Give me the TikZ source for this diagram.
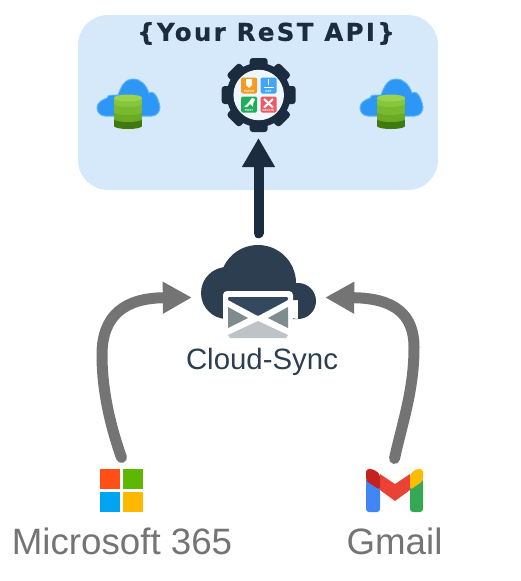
\documentclass[tikz,border=0pt]{standalone}
\usepackage{fontspec}
\setmainfont{Liberation Sans}
\newfontfamily\titlefont[LetterSpace=9.5, BoldFeatures={FakeBold=0.5}]{DejaVu Sans}
\usepackage{tikz}
\usetikzlibrary{arrows.meta, positioning}
\definecolor{navy}{HTML}{1B2B40}
\definecolor{slate}{HTML}{2C3E50}
\definecolor{panel}{HTML}{D6E9FB}
\definecolor{labelgray}{HTML}{747474}
\definecolor{cloudblue}{HTML}{2E96F5}
\definecolor{cloudedge}{HTML}{5CB8FF}
\tikzset{
    dbcloud/.pic={
        \fill[cloudblue, draw=cloudedge, line width=1pt] (-31,10) to[out=90,in=200] (-21,0) to[out=80,in=190] (-10,-3)
            to[out=70,in=180] (5,-19) to[out=0,in=110] (21,-5) to[out=30,in=100] (32,9) to[out=270,in=0] (24,18) -- (-23,18) to[out=180,in=270] cycle;
        \foreach \yy/\col in {22/3F7A0F, 15/6AAA24, 8/78B92F, 0/86C53C}{
            \definecolor{layercol}{HTML}{\col}
            \fill[layercol] (-14,\yy-1) rectangle (14,\yy+6);
            \fill[layercol] (0,\yy+6) ellipse [x radius=14, y radius=3];
        }
        \definecolor{layertop}{HTML}{9AD34E}
        \fill[layertop] (0,0) ellipse [x radius=14, y radius=3.5];
    }
}
\begin{document}
\begin{tikzpicture}[
    x=1pt, y=-1pt,
    panelbox/.style={rectangle, fill=panel, rounded corners=30pt, minimum width=360pt, minimum height=175pt, inner sep=0pt},
    iconbox/.style={rectangle, inner sep=0pt},
    tile/.style={rectangle, rounded corners=1.5pt, minimum size=16pt, inner sep=0pt},
    tiletext/.style={font=\fontsize{3}{3}\selectfont\bfseries, text=white, inner sep=0pt},
    logotext/.style={font=\fontsize{36.7}{40}\selectfont, text=labelgray, inner sep=0pt},
    uparrow/.style={-{Triangle[length=29pt, width=31pt]}, line width=10pt, navy, line cap=round},
    grayarrow/.style={-{Triangle[length=29pt, width=30pt]}, line width=11pt, labelgray, line cap=round}
]
\useasboundingbox (0,0) rectangle (520,581);
\node[panelbox] (api) at (258,102.5) {};
\node[inner sep=0pt, font=\fontsize{24.5}{26}\selectfont\titlefont\bfseries, text=navy] (title) at (266,33.5) {\{Your ReST API\}};

\pic at (128,98) {dbcloud};
\pic at (391,98) {dbcloud};

% gear
\foreach \ang in {0,45,...,315}{
    \fill[navy, rounded corners=3pt, rotate around={\ang:(258.7,95)}] (249.7,58) rectangle (267.7,74);
}
\fill[navy] (258.7,95) circle (32);
\node[circle, fill=panel!40!white, minimum size=50.5pt, inner sep=0pt] (gear) at (258.7,95) {};
\coordinate (geartip) at (258.5,138);

\foreach \name/\xx/\yy/\col/\word in {patch/249/85.5/F39C1F/PATCH, get/268.5/85.5/42A5F5/GET, post/249/104.5/1FAE5A/POST, del/268.5/104.5/EE5A63/DELETE}{
    \definecolor{tilecol}{HTML}{\col}
    \node[tile, fill=tilecol] (\name) at (\xx,\yy) {};
    \node[tiletext] (\name text) at (\xx,\yy+5.5) {\word};
}
\fill[white] (246,79) -- (252,79) -- (252,85) -- (249,88) -- (246,85) -- cycle;
\draw[white, line width=1.2pt] (268.5,79) -- (268.5,85) (263.5,87.5) -- (273.5,87.5);
\fill[white] (244,107) -- (249,102) -- (252,98) -- (255,99) -- (253,104) -- (253,107) -- (250,104) -- (247,107) -- cycle;
\draw[white, line width=2pt] (264,99) -- (273,107.5) (273,99) -- (264,107.5);

% cloud sync
\node[iconbox, minimum width=133pt, minimum height=128pt] (cloud) at (258.5,297.5) {};
\fill[slate] (258,283) circle (38) (227,293) circle (26) (298,301) circle (18) (227,300) rectangle (298,319);
\fill[white, rounded corners=4pt] (223,291) rectangle (293,338);
\definecolor{flapcol}{HTML}{34495E}
\definecolor{sidecol}{HTML}{7F8C8D}
\definecolor{basecol}{HTML}{BDC3C7}
\fill[flapcol, rounded corners=1pt] (228,297) -- (288,297) -- (288,300) -- (258,316) -- (228,300) -- cycle;
\fill[sidecol] (228,307) -- (248,318) -- (228,328) -- cycle (288,307) -- (268,318) -- (288,328) -- cycle;
\fill[basecol] (228,335) -- (258,321) -- (288,335) -- (286,338) -- (230,338) -- cycle;
\node[inner sep=0pt, font=\fontsize{29.4}{32}\selectfont, text=slate] (synclabel) at (262,362) {Cloud-Sync};

% mail logos
\definecolor{msred}{HTML}{FF4F17}
\definecolor{msgreen}{HTML}{5EB800}
\definecolor{msblue}{HTML}{00A4EF}
\definecolor{msyellow}{HTML}{FFB900}
\node[iconbox, minimum size=44pt, outer sep=11pt] (ms) at (121.5,490.5) {};
\fill[msred] (100,469) rectangle (120,489);
\fill[msgreen] (123,469) rectangle (143,489);
\fill[msblue] (100,492) rectangle (120,512);
\fill[msyellow] (123,492) rectangle (143,512);
\node[logotext] (mslabel) at (122,541) {Microsoft 365};

\definecolor{gmblue}{HTML}{4285F4}
\definecolor{gmgreen}{HTML}{34A853}
\definecolor{gmred}{HTML}{EA4335}
\definecolor{gmdark}{HTML}{C5221F}
\definecolor{gmyellow}{HTML}{FBBC04}
\node[iconbox, minimum width=58pt, minimum height=44pt, outer sep=10pt] (gmail) at (394.5,490.5) {};
\fill[gmblue, rounded corners=3pt] (366,478) -- (366,512) -- (380,512) -- (380,480) -- cycle;
\fill[gmgreen, rounded corners=3pt] (423,478) -- (423,512) -- (410,512) -- (410,480) -- cycle;
\fill[gmred] (380,474) -- (395,484) -- (410,474) -- (410,490) -- (395,501) -- (380,490) -- cycle;
\fill[gmdark, rounded corners=3pt] (366,481) -- (366,469) -- (373,469) -- (380,474) -- (380,490) -- cycle;
\fill[gmyellow, rounded corners=3pt] (423,481) -- (423,469) -- (416,469) -- (410,474) -- (410,490) -- cycle;
\node[logotext] (gmaillabel) at (394.5,541) {Gmail};

\draw[uparrow] (cloud.north) -- (geartip);
\draw[grayarrow] (ms.north) .. controls (110,425) and (102,390) .. (102,355) .. controls (102,315) and (125,298) .. (cloud.west);
\draw[grayarrow] (gmail.north) .. controls (403,420) and (414,390) .. (414,347) .. controls (414,315) and (395,298) .. (cloud.east);
\end{tikzpicture}
\end{document}
